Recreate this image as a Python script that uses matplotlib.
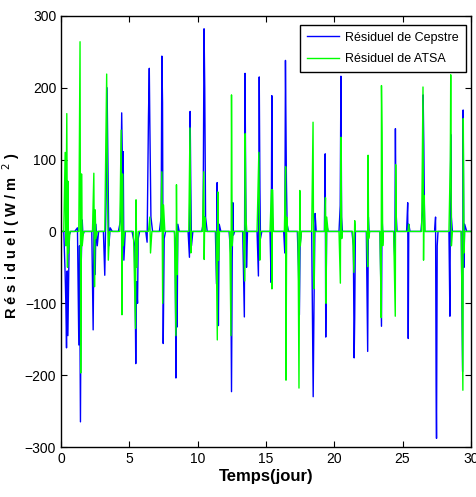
import matplotlib
matplotlib.use("Agg")
import matplotlib.pyplot as plt
import numpy as np

plt.rcParams['font.family'] = ['Liberation Sans', 'DejaVu Sans']

# Residual of the Cepstre model: (time in days, residual in W/m2)
cepstre_t = [0.0, 0.2, 0.3, 0.35, 0.4, 0.45, 0.5, 0.55, 0.6, 0.7,
             1.0, 1.2, 1.3, 1.35, 1.42, 1.47, 1.55, 1.6, 1.7,
             2.25, 2.35, 2.42, 2.5, 2.55, 2.65, 2.75,
             3.1, 3.2, 3.3, 3.37, 3.42, 3.5, 3.6, 3.75,
             4.2, 4.35, 4.44, 4.5, 4.55, 4.6, 4.7,
             5.2, 5.4, 5.47, 5.52, 5.6, 5.65, 5.75,
             6.2, 6.3, 6.4, 6.46, 6.5, 6.58, 6.7,
             7.2, 7.33, 7.38, 7.43, 7.48, 7.55, 7.65,
             8.3, 8.35, 8.41, 8.46, 8.5, 8.55, 8.65,
             9.3, 9.4, 9.45, 9.5, 9.55, 9.65,
             10.3, 10.4, 10.47, 10.52, 10.58, 10.7,
             11.3, 11.38, 11.43, 11.48, 11.52, 11.58, 11.7,
             12.3, 12.42, 12.48, 12.53, 12.58, 12.62, 12.7,
             13.3, 13.42, 13.47, 13.52, 13.58, 13.65,
             14.35, 14.45, 14.51, 14.56, 14.6, 14.7,
             15.3, 15.38, 15.43, 15.48, 15.55,
             16.3, 16.38, 16.43, 16.5, 16.55, 16.65,
             17.3, 17.38, 17.45, 17.5, 17.6,
             18.35, 18.46, 18.52, 18.6, 18.68,
             19.28, 19.34, 19.38, 19.45, 19.55,
             20.35, 20.44, 20.49, 20.54, 20.6,
             21.3, 21.4, 21.46, 21.5, 21.55,
             22.35, 22.45, 22.5, 22.55,
             23.35, 23.46, 23.5, 23.55,
             24.35, 24.44, 24.48, 24.52, 24.6,
             25.3, 25.38, 25.42, 25.46, 25.55,
             26.35, 26.48, 26.51, 26.56, 26.62,
             27.35, 27.42, 27.46, 27.49, 27.54, 27.6,
             28.4, 28.47, 28.53, 28.58, 28.65,
             29.3, 29.4, 29.44, 29.5, 29.55, 29.7, 30.0]
cepstre_v = [0, 0, -60, -100, -162, -55, -145, -80, -5, 0,
             0, 5, -158, -20, -265, -50, 16, -5, 0,
             0, -137, 27, -60, 10, -20, 0,
             0, -61, 50, 200, 120, -20, 5, 0,
             0, 15, 165, 80, 111, -40, 0,
             0, -20, -184, -70, -100, -10, 0,
             0, -15, 160, 227, 150, 20, 0,
             0, 20, 244, 180, -156, -10, 0,
             0, -10, -204, -60, -133, 10, 0,
             0, -36, 167, 60, -20, 0,
             0, 10, 282, 200, 20, 0,
             0, -73, 68, -20, -131, 10, 0,
             0, -30, -223, -40, 40, -5, 0,
             0, -119, 220, 60, -50, 0,
             0, -62, 215, 60, -10, 0,
             0, -71, 189, 20, 0,
             0, -30, 238, 70, 10, 0,
             0, -50, -116, -20, 0,
             0, -230, -100, 25, 0,
             0, 108, -147, 10, 0,
             0, 36, 216, 20, 0,
             0, -20, -176, -120, 0,
             0, -167, 20, 0,
             0, -132, 20, 0,
             0, -40, 143, 30, 0,
             0, 40, -149, 10, 0,
             0, 30, 190, 120, 0,
             0, 20, -216, -288, -20, 0,
             0, -118, 135, 20, 0,
             0, -195, 169, -50, 10, 0, 0]

# Residual of the ATSA model
atsa_t = [0.0, 0.2, 0.3, 0.35, 0.42, 0.47, 0.5, 0.55, 0.65,
          1.3, 1.39, 1.44, 1.5, 1.55, 1.65,
          2.3, 2.4, 2.45, 2.5, 2.55, 2.65,
          3.2, 3.34, 3.4, 3.46, 3.55,
          4.3, 4.4, 4.46, 4.5, 4.55, 4.65,
          5.3, 5.45, 5.49, 5.55, 5.65,
          6.4, 6.5, 6.55, 6.65,
          7.3, 7.38, 7.44, 7.5, 7.6,
          8.3, 8.41, 8.45, 8.5, 8.55,
          9.35, 9.44, 9.5, 9.55,
          10.35, 10.45, 10.48, 10.52, 10.6,
          11.35, 11.44, 11.48, 11.53, 11.6,
          12.35, 12.44, 12.48, 12.53, 12.6,
          13.35, 13.45, 13.48, 13.53, 13.6,
          14.35, 14.48, 14.55, 14.6,
          15.3, 15.4, 15.44, 15.48, 15.55,
          16.35, 16.44, 16.47, 16.52, 16.6,
          17.35, 17.42, 17.48, 17.52, 17.6,
          18.35, 18.45, 18.5, 18.55,
          19.3, 19.36, 19.4, 19.45, 19.55,
          20.35, 20.45, 20.49, 20.55, 20.6,
          21.35, 21.44, 21.5, 21.55,
          22.38, 22.45, 22.48, 22.52, 22.6,
          23.35, 23.44, 23.46, 23.5, 23.55, 23.6,
          24.35, 24.47, 24.5, 24.55,
          25.4, 25.45, 25.5,
          26.4, 26.5, 26.54, 26.58, 26.65,
          28.4, 28.5, 28.53, 28.58, 28.65,
          29.3, 29.42, 29.45, 29.5, 29.55, 30.0]
atsa_v = [0, 0, 110, -20, 164, -50, 70, -30, 0,
          0, 264, -197, 80, -20, 0,
          0, 81, -77, 30, -10, 0,
          0, 219, 50, -40, 0,
          0, 141, -116, 80, -20, 0,
          0, -135, 44, -50, 0,
          0, 20, -30, 0,
          0, 83, -100, 37, 0,
          0, -145, 65, -60, 0,
          0, 144, -30, 0,
          0, 83, -39, 20, 0,
          0, -151, 55, -40, 0,
          0, -145, 190, -20, 0,
          0, -69, 136, 20, 0,
          0, 110, -40, 0,
          0, 58, -80, 58, 0,
          0, 90, -207, 20, 0,
          0, -218, 57, -20, 0,
          0, 152, -80, 0,
          0, 47, -100, 20, 0,
          0, -72, 131, -10, 0,
          0, -57, 15, 0,
          0, -49, 106, -10, 0,
          0, -120, 203, 137, -20, 0,
          0, -118, 93, 0,
          0, 10, 0,
          0, 201, -40, 50, 0,
          0, 100, 218, -20, 0,
          0, -221, 157, -30, 0, 0]

x_ticks = [0, 5, 10, 15, 20, 25, 30]
y_ticks = [-300, -200, -100, 0, 100, 200, 300]

fig = plt.figure(figsize=(4.77, 4.97), dpi=100)
ax = fig.add_axes([0.128, 0.1006, 0.859, 0.8675])

ax.plot(cepstre_t, cepstre_v, color=(0, 0, 1), lw=1.0, label='Résiduel de Cepstre')
ax.plot(atsa_t, atsa_v, color=(0, 1, 0), lw=1.0, label='Résiduel de ATSA')

ax.set_xlim(0, 30)
ax.set_ylim(-300, 300)
ax.set_xticks(x_ticks)
ax.set_yticks(y_ticks)
ax.set_yticklabels([str(v).replace('-', '\u2212') for v in y_ticks])
ax.tick_params(direction='in', top=True, right=True, labelsize=10, length=4)
for s in ax.spines.values():
    s.set_linewidth(1.0)

ax.set_xlabel('Temps(jour)', fontsize=12, fontweight='bold', labelpad=2)
ax.set_ylabel('R é s i d u e l ( W / m  $^{2}$ )', fontsize=10.5, fontweight='bold')
ax.yaxis.set_label_coords(-0.095, 0.49)

leg = ax.legend(loc='upper right', fontsize=9, fancybox=False, edgecolor='black',
                framealpha=1, borderpad=0.55, handlelength=2.6, handletextpad=0.5,
                labelspacing=0.75, borderaxespad=0.0, bbox_to_anchor=(0.988, 0.979))
leg.get_frame().set_linewidth(1.0)

fig.savefig('out.png', dpi=100)
